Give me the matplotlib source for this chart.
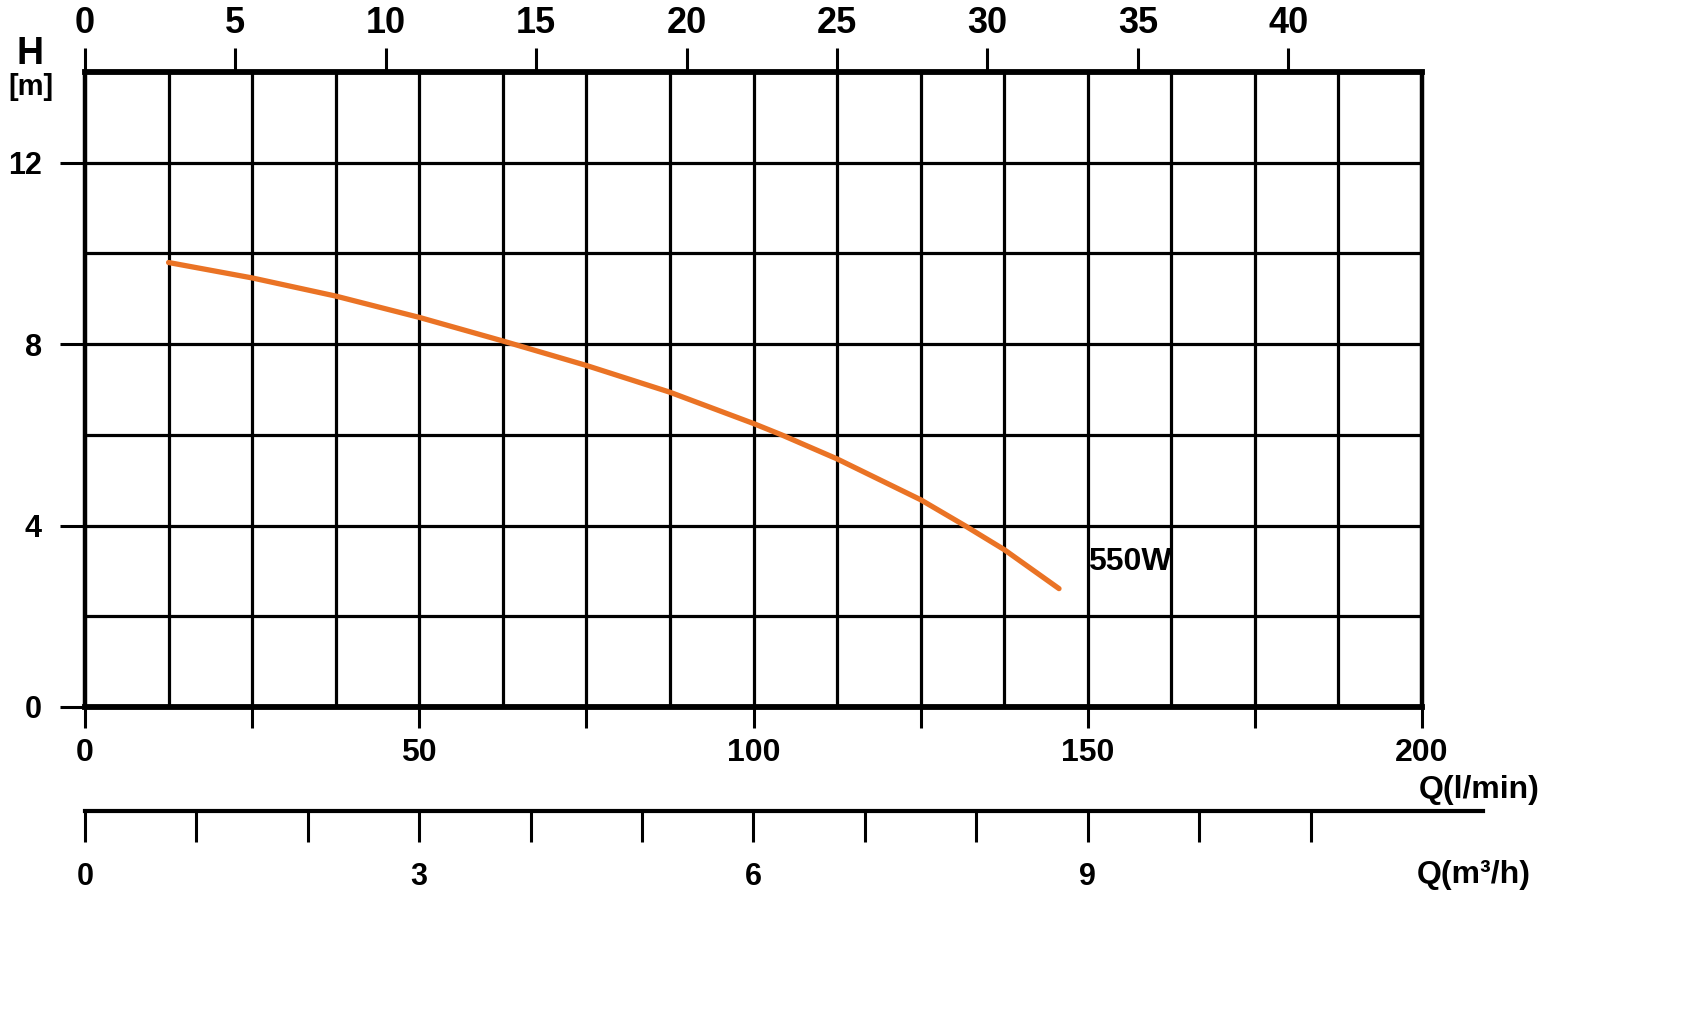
import matplotlib
matplotlib.use("Agg")
import matplotlib.pyplot as plt
import numpy as np

# Data
q_lpm = [12.5, 25, 37.5, 50, 62.5, 75, 87.5, 100, 104.2, 112.5, 125, 131.6, 137.5, 145.7]
head_m = [9.80, 9.46, 9.06, 8.59, 8.07, 7.53, 6.94, 6.25, 6.00, 5.47, 4.57, 4.00, 3.47, 2.61]
curve_label = "550W"
lpm_ticks = [0, 50, 100, 150, 200]
lpm_minor = [25, 75, 125, 175]
gal_ticks = [0, 5, 10, 15, 20, 25, 30, 35, 40]
m3h_ticks = list(range(0, 12))
m3h_labels = ["0", "", "", "3", "", "", "6", "", "", "9", "", ""]
h_ticks = [0, 4, 8, 12]

FAM = ["Liberation Sans", "DejaVu Sans"]
plt.rcParams['font.family'] = FAM
plt.rcParams['font.weight'] = 'bold'

W, H = 1705, 1024
fig = plt.figure(figsize=(W / 100, H / 100), dpi=100)
left_px, right_px, top_px, bot_px = 85, 1422, 72, 707
ax = fig.add_axes([left_px / W, 1 - bot_px / H, (right_px - left_px) / W, (bot_px - top_px) / H])
ax.set_xlim(0, 200)
ax.set_ylim(0, 14)

# grid
for xv in np.arange(12.5, 200, 12.5):
    ax.axvline(xv, color='black', lw=2.3, zorder=1)
for yv in np.arange(2, 14, 2):
    ax.axhline(yv, color='black', lw=2.3, zorder=1)

ax.plot(q_lpm, head_m, color='#EA7325', lw=3.8, solid_capstyle='round',
        solid_joinstyle='round', zorder=3)
ax.text(150, 3.2, curve_label, fontsize=23, fontweight='bold', ha='left', va='center', zorder=4)

for s in ['left', 'right']:
    ax.spines[s].set_linewidth(3.2)
for s in ['top', 'bottom']:
    ax.spines[s].set_linewidth(4.2)

ax.set_xticks(lpm_ticks + lpm_minor)
ax.set_xticklabels([str(v) for v in lpm_ticks] + [""] * len(lpm_minor))
ax.tick_params(axis='x', direction='out', length=15, width=2.2, pad=7, labelsize=23)
ax.set_yticks(h_ticks)
ax.set_yticklabels([str(v) for v in h_ticks])
ax.tick_params(axis='y', direction='out', length=18, width=2.2, pad=13, labelsize=22)

GAL = 4.5
sec = ax.secondary_xaxis('top', functions=(lambda x: x / GAL, lambda g: g * GAL))
sec.set_xticks(gal_ticks)
sec.set_xticklabels([str(v) for v in gal_ticks])
sec.tick_params(direction='out', length=17, width=2.2, pad=5, labelsize=26)
sec.spines['top'].set_visible(False)

# second (m3/h) scale
end_m3h = 12.55
ax2_w = (right_px - left_px) * (end_m3h * 1000 / 60 / 200) / W
ax2 = fig.add_axes([left_px / W, 1 - 811 / H, ax2_w, 0.0001])
ax2.set_xlim(0, end_m3h)
ax2.set_ylim(0, 1)
for s in ['left', 'right', 'top']:
    ax2.spines[s].set_visible(False)
ax2.spines['bottom'].set_linewidth(3.0)
ax2.set_yticks([])
ax2.set_xticks(m3h_ticks)
ax2.set_xticklabels(m3h_labels)
ax2.tick_params(axis='x', direction='out', length=22, width=2.2, pad=15, labelsize=22)
ax2.patch.set_visible(False)

fig.text(30 / W, 1 - 54 / H, "H", fontsize=27, fontweight='bold', ha='center', va='center')
fig.text(31 / W, 1 - 87 / H, "[m]", fontsize=21, fontweight='bold', ha='center', va='center')
fig.text(1419 / W, 1 - 790 / H, "Q(l/min)", fontsize=23, fontweight='bold', ha='left', va='center')
fig.text(1417 / W, 1 - 875 / H, "Q(m³/h)", fontsize=23, fontweight='bold', ha='left', va='center')

fig.savefig("out.png", dpi=100, facecolor='white')
